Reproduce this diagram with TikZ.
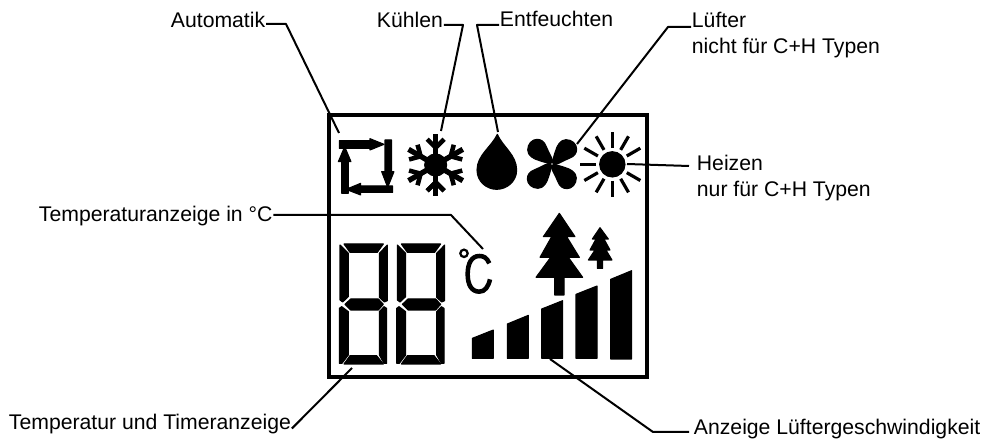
\documentclass[tikz,border=0pt]{standalone}
\usepackage{fontspec}
\setmainfont{Liberation Sans}
\begin{document}
\begin{tikzpicture}[
    x=0.75pt,
    y=-0.75pt,
    callout/.style={
        inner sep=0.5pt,
        anchor=base west,
        align=left,
        font=\fontsize{15.9pt}{19.8pt}\selectfont
    },
    leader/.style={
        line width=1.5pt,
        line join=round
    },
    glyph/.style={
        fill=black,
        draw=black,
        line width=0.8pt,
        line join=round
    },
    ray/.style={
        line width=2.4pt,
        draw=black
    },
    flake/.style={
        line width=4pt,
        draw=black
    },
    zoomA/.style={shift={(320,100)}, x=0.25pt, y=-0.25pt},
    zoomB/.style={shift={(320,200)}, x=0.25pt, y=-0.25pt},
    zoomC/.style={shift={(460,200)}, x=0.25pt, y=-0.25pt}
]
\useasboundingbox (0,0) rectangle (986,441);

% Anzeigefeld
\node[draw, line width=3pt, minimum width=318pt*0.75, minimum height=262pt*0.75, anchor=north west, inner sep=0pt] (lcd) at (327,113) {};

% Automatik
\begin{scope}[zoomA]
\fill[glyph] (58,122) -- (150,122) -- (150,116) -- (192,133) -- (150,150) -- (150,145) -- (58,145) -- cycle;
\fill[glyph] (195,120) -- (215,120) -- (215,215) -- (222,215) -- (203,262) -- (185,215) -- (195,215) -- cycle;
\fill[glyph] (218,258) -- (218,277) -- (122,277) -- (122,285) -- (78,268) -- (122,250) -- (122,258) -- cycle;
\fill[glyph] (65,280) -- (85,280) -- (85,185) -- (93,185) -- (74,140) -- (55,185) -- (65,185) -- cycle;

% Kuehlen
\fill[glyph] (347,195) circle (33);
\foreach \ang in {90,150,...,450} {
    \draw[flake] (347,195) -- ++(\ang:94);
    \draw[flake, line width=3.4pt] (347,195) ++(\ang:52) -- ++(\ang+45:36);
    \draw[flake, line width=3.4pt] (347,195) ++(\ang:52) -- ++(\ang-45:36);
}

% Entfeuchten
\fill[glyph] (532,103) .. controls (515,140) and (471,165) .. (471,210)
    .. controls (471,245) and (500,268) .. (530,268)
    .. controls (560,268) and (590,245) .. (590,210)
    .. controls (590,165) and (548,140) .. (532,103) -- cycle;

% Luefter
\foreach \ang in {0,90,180,270} {
    \fill[glyph, shift={(696,192)}, rotate=\ang] (4,-4) .. controls (0,-20) and (-12,-38) .. (-17,-52)
        .. controls (-23,-68) and (-33,-74) .. (-45,-74)
        .. controls (-60,-74) and (-73,-60) .. (-73,-42)
        .. controls (-73,-25) and (-55,-15) .. (-40,-11)
        .. controls (-25,-6) and (-10,0) .. (4,-4) -- cycle;
}

% Heizen
\fill[glyph] (877,193) circle (38);
\foreach \ang in {30,60,...,330} {
    \draw[ray] (877,193) ++(\ang:50) -- ++(\ang:47);
}
\end{scope}

% Siebensegment
\begin{scope}[zoomB]
\foreach \dig in {0,172} {
    \begin{scope}[shift={(\dig,0)}]
    \fill[glyph] (72,132) -- (190,132) -- (172,157) -- (90,157) -- cycle;
    \fill[glyph] (60,135) -- (85,160) -- (85,290) -- (68,306) -- (60,300) -- cycle;
    \fill[glyph] (202,135) -- (202,302) -- (193,306) -- (178,292) -- (178,160) -- cycle;
    \fill[glyph] (75,313) -- (92,297) -- (175,297) -- (190,313) -- (175,330) -- (92,330) -- cycle;
    \fill[glyph] (58,490) -- (58,325) -- (65,320) -- (85,335) -- (85,465) -- (66,490) -- cycle;
    \fill[glyph] (200,325) -- (200,490) -- (192,490) -- (178,465) -- (178,335) -- (192,320) -- cycle;
    \fill[glyph] (90,467) -- (170,467) -- (190,492) -- (72,492) -- cycle;
    \end{scope}
}

% Grad Celsius
\draw[line width=1.7pt] (432,160) circle (11);
\draw[line width=3.4pt] (508,190) .. controls (500,172) and (490,168) .. (478,168)
    .. controls (455,168) and (443,190) .. (443,222)
    .. controls (443,255) and (455,275) .. (478,275)
    .. controls (495,275) and (505,260) .. (510,238);
\end{scope}

% Baeume und Balken
\begin{scope}[zoomC]
\fill[glyph] (298,40) -- (345,110) -- (320,110) -- (358,172) -- (325,172) -- (368,232) -- (312,232) -- (312,285)
    -- (284,285) -- (284,232) -- (228,232) -- (272,172) -- (240,172) -- (275,110) -- (250,110) -- cycle;
\fill[glyph] (420,83) -- (445,117) -- (432,117) -- (450,150) -- (438,150) -- (456,180) -- (428,180) -- (428,205)
    -- (412,205) -- (412,180) -- (385,180) -- (405,150) -- (390,150) -- (408,117) -- (397,117) -- cycle;
\fill[glyph] (37,415) -- (100,390) -- (100,475) -- (37,475) -- cycle;
\fill[glyph] (142,372) -- (205,346) -- (205,475) -- (142,475) -- cycle;
\fill[glyph] (245,327) -- (308,302) -- (308,475) -- (245,475) -- cycle;
\fill[glyph] (348,283) -- (411,258) -- (411,475) -- (348,475) -- cycle;
\fill[glyph] (452,238) -- (515,212) -- (515,477) -- (452,477) -- cycle;
\end{scope}

% Beschriftung
\node[callout] (auto) at (170,28) {Automatik};
\node[callout] (kuehl) at (376,28) {Kühlen};
\node[callout] (entf) at (499,27) {Entfeuchten};
\node[callout, anchor=north west] (luft) at (691,11) {Lüfter\\nicht für C+H Typen};
\node[callout, anchor=north west] (heiz) at (696,154) {Heizen\\nur für C+H Typen};
\node[callout] (tempc) at (38,222) {Temperaturanzeige in °C};
\node[callout] (timer) at (8,430) {Temperatur und Timeranzeige};
\node[callout] (speed) at (693,435) {Anzeige Lüftergeschwindigkeit};

% Knickpunkte und Enden
\coordinate (autoB) at (286,24);
\coordinate (autoE) at (339,133);
\coordinate (kuehlB) at (463,25);
\coordinate (kuehlE) at (441,131);
\coordinate (entfB) at (477,25);
\coordinate (entfE) at (498,132);
\coordinate (luftB) at (668,27);
\coordinate (luftE) at (577,144);
\coordinate (heizB) at (627,164);
\coordinate (tempcB) at (451,215);
\coordinate (tempcE) at (483,249);
\coordinate (timerE) at (352,368);
\coordinate (speedB) at (653,432);
\coordinate (speedE) at (550,359);

\draw[leader] (auto.east |- autoB) -- (autoB) -- (autoE);
\draw[leader] (kuehl.east |- kuehlB) -- (kuehlB) -- (kuehlE);
\draw[leader] (entf.west |- entfB) -- (entfB) -- (entfE);
\draw[leader] (luft.west |- luftB) -- (luftB) -- (luftE);
\draw[leader] (heiz.west |- heizB) ++(-7,2) -- (heizB);
\draw[leader] (tempc.east |- tempcB) -- (tempcB) -- (tempcE);
\draw[leader] (timer.east) ++(0,4) -- (timerE);
\draw[leader] (speed.west |- speedB) ++(-4,0) -- (speedB) -- (speedE);

\end{tikzpicture}
\end{document}
